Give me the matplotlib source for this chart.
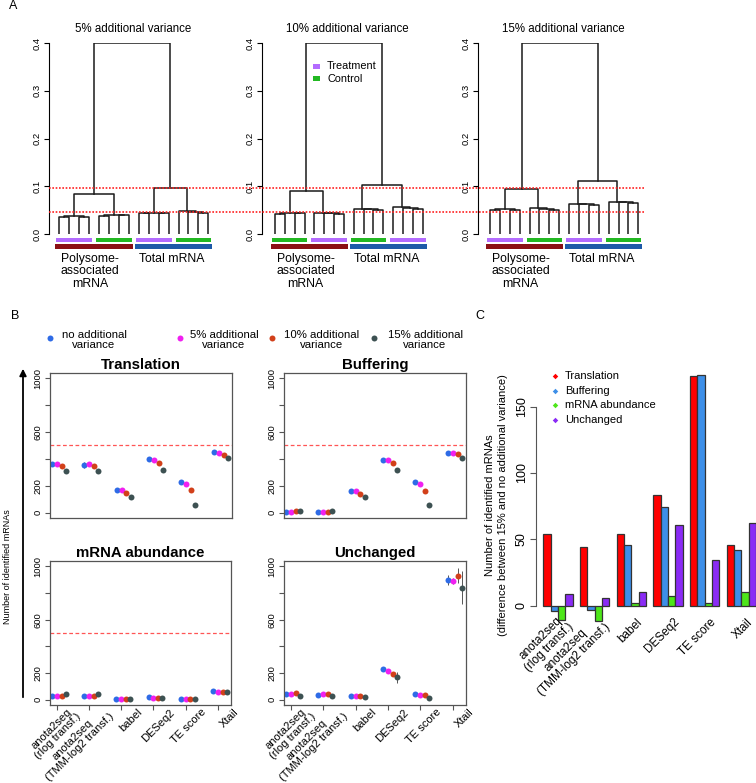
import matplotlib
matplotlib.use("Agg")
import matplotlib.pyplot as plt
import matplotlib.transforms as mtransforms
from matplotlib.patches import Rectangle
import numpy as np

plt.rcParams['font.family'] = ['Liberation Sans', 'DejaVu Sans']

W, H = 756, 783

# ---------------- panel A data (dendrograms) ----------------
dend_titles = ['5% additional variance', '10% additional variance', '15% additional variance']
dend_root_h = [0.4, 0.4, 0.4]
dend_cluster_h = [[0.084, 0.096], [0.090, 0.103], [0.094, 0.110]]
dend_group_h = [[0.037, 0.040, 0.045, 0.048],
                [0.044, 0.044, 0.053, 0.056],
                [0.052, 0.054, 0.063, 0.067]]
dend_group_shape = [['pair', 'pair', 'pair', 'chain'],
                    ['pair', 'chain', 'chain', 'chain'],
                    ['pair', 'chain', 'chain', 'chain']]
dend_condition = [['Treatment', 'Control', 'Treatment', 'Control'],
                  ['Control', 'Treatment', 'Control', 'Treatment'],
                  ['Treatment', 'Control', 'Treatment', 'Control']]
cutoffs = [0.097, 0.047]
cond_colors = {'Treatment': '#B36BFF', 'Control': '#22B822'}
fraction_labels = ['Polysome-\nassociated\nmRNA', 'Total mRNA']
fraction_colors = ['#8B1015', '#1E5AA8']

# ---------------- panel B data ----------------
methods = ['anota2seq\n(rlog transf.)', 'anota2seq\n(TMM-log2 transf.)', 'babel',
           'DESeq2', 'TE score', 'Xtail']
variance_labels = ['no additional\nvariance', '5% additional\nvariance',
                   '10% additional\nvariance', '15% additional\nvariance']
variance_colors = ['#2E6BE6', '#F020F0', '#D2401A', '#3D5152']

translation = [[362, 355, 171, 400, 231, 452],
               [362, 360, 169, 392, 211, 444],
               [350, 347, 144, 370, 171, 429],
               [308, 308, 119, 315, 57, 404]]
translation_err = [[8, 20, 14, 6, 8, 6], [6, 8, 10, 6, 10, 6],
                   [8, 8, 10, 8, 12, 6], [10, 10, 8, 10, 10, 8]]
buffering = [[8, 6, 161, 392, 231, 447],
             [8, 6, 161, 390, 211, 444],
             [10, 8, 141, 372, 164, 439],
             [14, 12, 114, 318, 57, 407]]
buffering_err = [[4, 3, 12, 6, 14, 6], [3, 3, 10, 6, 10, 6],
                 [4, 4, 10, 8, 10, 6], [5, 5, 10, 10, 12, 8]]
mrna = [[27, 25, 5, 20, 5, 64],
        [25, 25, 5, 10, 5, 59],
        [27, 27, 5, 12, 5, 57],
        [40, 40, 5, 10, 4, 54]]
mrna_err = [[4, 4, 2, 4, 2, 6], [4, 4, 2, 3, 2, 5],
            [4, 4, 2, 3, 2, 5], [5, 5, 2, 3, 2, 5]]
unchanged = [[40, 37, 30, 229, 42, 898],
             [45, 45, 30, 216, 37, 891],
             [50, 45, 27, 194, 35, 931],
             [30, 30, 20, 169, 10, 839]]
unchanged_err = [[6, 5, 5, 12, 5, 37], [6, 5, 5, 8, 5, 20],
                 [6, 6, 5, 15, 5, 55], [6, 6, 5, 41, 4, 124]]
threshold = 500

# ---------------- panel C data ----------------
c_categories = ['Translation', 'Buffering', 'mRNA abundance', 'Unchanged']
c_colors = ['#FF0000', '#3D8FE8', '#4DE619', '#8A2BF5']
c_values = [[54, 44, 54, 83, 173, 45.5],
            [-4, -3, 46, 74, 174, 42],
            [-11, -12, 2, 7, 2, 10],
            [9, 6, 10, 61, 34, 62]]

fig = plt.figure(figsize=(W / 100, H / 100), dpi=100)


def add_ax(l, t, r, b):
    return fig.add_axes([l / W, 1 - b / H, (r - l) / W, (b - t) / H])


def build_group(leaves, h, shape):
    a, b, c, d = leaves
    if shape == 'pair':
        return ((a, b, h - 0.002), (c, d, h - 0.001), h)
    return (a, (b, (c, d, h - 0.003), h - 0.001), h)


def draw_node(ax, node):
    if not isinstance(node, tuple):
        return node, 0.0
    left, right, h = node
    xl, hl = draw_node(ax, left)
    xr, hr = draw_node(ax, right)
    ax.plot([xl, xl, xr, xr], [hl, h, h, hr], color='#1a1a1a', lw=1.1)
    return (xl + xr) / 2, h


# ---------------- panel A ----------------
dend_axis_x = [49, 262, 478]
dend_leaf_span = [(59.3, 208.3), (275, 422.7), (490, 638.3)]
for i in range(3):
    l1, l16 = dend_leaf_span[i]
    sp = (l16 - l1) / 15
    ax = add_ax(dend_axis_x[i], 43, l16 + sp, 234)
    ax.set_xlim(1 - (dend_leaf_span[i][0] - dend_axis_x[i]) / sp, 17)
    ax.set_ylim(0, 0.4)
    groups = [build_group(range(4 * g + 1, 4 * g + 5), dend_group_h[i][g], dend_group_shape[i][g])
              for g in range(4)]
    tree = ((groups[0], groups[1], dend_cluster_h[i][0]),
            (groups[2], groups[3], dend_cluster_h[i][1]), dend_root_h[i])
    draw_node(ax, tree)
    for g in range(4):
        ax.add_patch(Rectangle((4 * g + 1 - 0.3, -0.0174), 3.6, 0.009,
                               color=cond_colors[dend_condition[i][g]], clip_on=False, lw=0))
    for f in range(2):
        ax.add_patch(Rectangle((8 * f + 1 - 0.4, -0.0307), 7.8, 0.009,
                               color=fraction_colors[f], clip_on=False, lw=0))
    ax.text(4.1, -0.039, fraction_labels[0], ha='center', va='top', fontsize=8.8, linespacing=1.05)
    ax.text(12.3, -0.039, fraction_labels[1], ha='center', va='top', fontsize=8.8)
    ax.set_title(dend_titles[i], fontsize=8.3, pad=8)
    for s in ['top', 'right', 'bottom']:
        ax.spines[s].set_visible(False)
    ax.spines['left'].set_bounds(0, 0.4)
    ax.spines['left'].set_linewidth(0.8)
    ax.set_xticks([])
    ax.set_yticks([0, 0.1, 0.2, 0.3, 0.4])
    ax.set_yticklabels(['0.0', '0.1', '0.2', '0.3', '0.4'])
    ax.tick_params(axis='y', labelsize=6.8, labelrotation=90, length=3.5, width=0.8, pad=2)
    for lab in ax.get_yticklabels():
        lab.set_va('center')

cut_ax = add_ax(49, 43, 645, 234)
cut_ax.set_xlim(0, 1)
cut_ax.set_ylim(0, 0.4)
cut_ax.axis('off')
for c in cutoffs:
    cut_ax.axhline(c, color='#FF2020', ls=(0, (1, 1)), lw=1.2)

# ---------------- panel B ----------------
offsets = [-0.15, 0, 0.15, 0.28]
x = np.arange(len(methods))
b_panels = [('Translation', translation, translation_err, (50, 373, 232, 518), True, False),
            ('Buffering', buffering, buffering_err, (284, 373, 466, 518), True, False),
            ('mRNA abundance', mrna, mrna_err, (50, 561, 231, 705), True, True),
            ('Unchanged', unchanged, unchanged_err, (284, 561, 466, 705), False, True)]
for title, vals, errs, box, show_thr, bottom in b_panels:
    ax = add_ax(*box)
    if show_thr:
        ax.axhline(threshold, color='#FF5555', ls=(0, (3, 2)), lw=0.9)
    for k in range(4):
        ax.errorbar(x + offsets[k], vals[k], yerr=errs[k], fmt='o', color=variance_colors[k],
                    ecolor='#555555', elinewidth=0.7, capsize=1.5, capthick=0.7,
                    markersize=4.3, markeredgewidth=0)
    ax.set_xlim(-0.21, 5.41)
    ax.set_ylim(-40, 1040)
    ax.set_yticks([0, 200, 400, 600, 800, 1000])
    ax.set_yticklabels(['0', '200', '', '600', '', '1000'])
    ax.tick_params(axis='y', labelsize=6.8, labelrotation=90, length=3.5, width=0.8, pad=2,
                   color='#555555')
    for lab in ax.get_yticklabels():
        lab.set_va('center')
    for s in ax.spines.values():
        s.set_color('#555555')
        s.set_linewidth(0.9)
    ax.set_title(title, fontsize=10.8, fontweight='bold', pad=3)
    if bottom:
        ax.set_xticks(x)
        ax.set_xticklabels([])
        ax.tick_params(axis='x', length=3.5, width=0.8, color='#555555')
        trans = mtransforms.blended_transform_factory(ax.transData, ax.transAxes)
        for i, m in enumerate(methods):
            ax.text(i + 0.6, -0.04, m, transform=trans, rotation=45, ha='right', va='center',
                    rotation_mode='anchor', multialignment='center', fontsize=8.0,
                    linespacing=1.0)
    else:
        ax.set_xticks([])

# ---------------- panel C ----------------
axc = add_ax(536, 365, 756, 631)
for j in range(4):
    lefts = [1 + 5 * g + j for g in range(len(methods))]
    axc.bar(lefts, c_values[j], width=1, align='edge', color=c_colors[j],
            edgecolor='#333333', linewidth=0.9)
axc.set_xlim(0, 30.0)
axc.set_ylim(-19.2, 181.4)
for s in ['top', 'right', 'bottom']:
    axc.spines[s].set_visible(False)
axc.spines['left'].set_bounds(0, 150)
axc.spines['left'].set_color('#555555')
axc.set_yticks([0, 50, 100, 150])
axc.tick_params(axis='y', labelsize=9, labelrotation=90, length=4, width=0.8, pad=2,
                color='#555555')
for lab in axc.get_yticklabels():
    lab.set_va('center')
axc.set_xticks([])
transc = mtransforms.blended_transform_factory(axc.transData, axc.transAxes)
for g, m in enumerate(methods):
    axc.text(3 + 5 * g + 1.3, 0.04, m, transform=transc, rotation=45, ha='right', va='center',
             rotation_mode='anchor', multialignment='center', fontsize=8.5, linespacing=1.05)

# ---------------- overlay: legends, labels ----------------
ov = fig.add_axes([0, 0, 1, 1])
ov.set_xlim(0, W)
ov.set_ylim(H, 0)
ov.axis('off')

ov.text(13, 6, 'A', fontsize=9, ha='center', va='center')
ov.text(15, 316, 'B', fontsize=9, ha='center', va='center')
ov.text(480, 316, 'C', fontsize=9, ha='center', va='center')

# treatment / control legend
for k, cond in enumerate(['Treatment', 'Control']):
    ov.add_patch(Rectangle((312.5, 63.5 + 12.5 * k), 7.5, 5, color=cond_colors[cond], lw=0))
    ov.text(327, 66 + 12.5 * k, cond, fontsize=7.8, va='center', ha='left')

# variance legend
leg_dot_x = [50, 180, 272, 374]
leg_txt_x = [94, 224, 322, 425]
for k in range(4):
    ov.plot(leg_dot_x[k], 337.5, 'o', color=variance_colors[k], markersize=4.3, markeredgewidth=0)
    ov.text(leg_txt_x[k], 340, variance_labels[k], fontsize=8.2, ha='center', va='center',
            linespacing=1.0)

# B y-axis arrow and label
ov.annotate('', xy=(23, 366), xytext=(23, 700),
            arrowprops=dict(arrowstyle='-|>', lw=1.3, color='black', mutation_scale=10))
ov.text(8, 567, 'Number of identified mRNAs', rotation=90, fontsize=6.5,
        ha='center', va='center')

# C legend and y label
for k, cat in enumerate(c_categories):
    ov.plot(555, 376 + 14.7 * k, 'D', color=c_colors[k], markersize=2.8, markeredgewidth=0)
    ov.text(565, 376 + 14.7 * k, cat, fontsize=8, ha='left', va='center')
ov.text(496.5, 505, 'Number of identified mRNAs\n(difference between 15% and no additional variance)',
        rotation=90, fontsize=8, ha='center', va='center', linespacing=1.3)

fig.savefig('out.png', dpi=100)
